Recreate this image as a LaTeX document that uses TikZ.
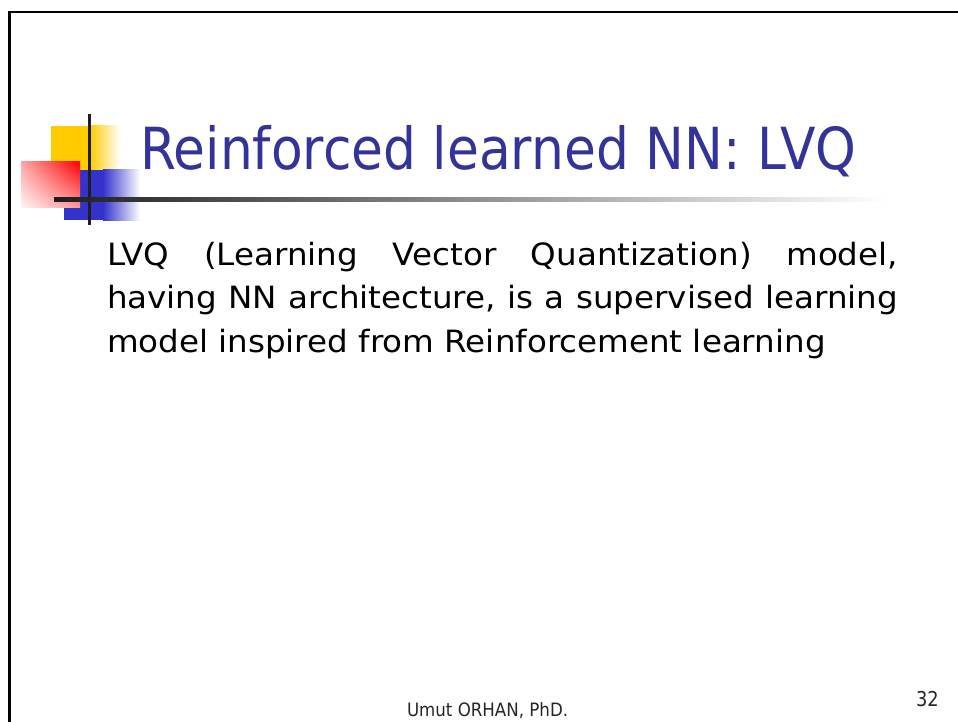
\documentclass[tikz,border=0pt]{standalone}
\usepackage{fontspec}
\usetikzlibrary{shadings}
\setmainfont{DejaVu Sans}[FakeStretch=0.87]
\newfontfamily\titlefont{DejaVu Sans}[FakeStretch=0.894]
\newfontfamily\bodyfont{DejaVu Sans}[FakeStretch=1.06]
\newfontfamily\footfont{DejaVu Sans}[FakeStretch=0.905]
\definecolor{titleblue}{HTML}{333399}
\definecolor{logoyellow}{HTML}{FFCC00}
\definecolor{logoblue}{HTML}{3333CC}
\definecolor{rulegray}{HTML}{1E1E1E}
\tikzset{
  plaintext/.style={anchor=base west, inner sep=0pt, outer sep=0pt},
  titletext/.style={plaintext, text=titleblue, font=\titlefont\fontsize{58}{60}\selectfont},
  bodytext/.style={plaintext, text=black, font=\bodyfont\fontsize{30.7}{36}\selectfont},
  foottext/.style={plaintext, text=black!85, font=\footfont\fontsize{18.4}{20}\selectfont},
}
\begin{document}
\begin{tikzpicture}[x=1pt,y=-1pt]
\useasboundingbox (0,0) rectangle (958,722);
\fill[white] (0,0) rectangle (958,722);

% slide frame (left and top edges)
\draw[line width=2.6pt, black] (9.2,724) -- (9.2,12) -- (960,12);

% corner logo: yellow, blue and red squares
\fill[logoyellow] (51,126) rectangle (90.5,170);
\shade[left color=logoyellow, right color=white] (90,126) rectangle (120,170);
\fill[logoblue] (64,170) rectangle (103.5,220);
\shade[left color=logoblue, right color=white] (103,170) rectangle (140,220);
\shade[upper right=red, upper left=red!35, lower left=red!4, lower right=red!40]
  (21,162) rectangle (80,208);

% logo cross: vertical bar and fading title rule
\fill[rulegray] (87.6,114) rectangle (90.6,225);
\shade[left color=rulegray, middle color=black!30, right color=white]
  (54,197.8) rectangle (887,201.8);

% title
\node[titletext] (title) at (140,170) {Reinforced learned NN: LVQ};

% body paragraph, justified line by line
\node[bodytext] (line1) at (107,265)
  {\makebox[791pt][s]{LVQ (Learning Vector Quantization) model,}};
\node[bodytext] (line2) at (107,308.5)
  {\makebox[791pt][s]{having NN architecture, is a supervised learning}};
\node[bodytext] (line3) at (107,352)
  {model inspired from Reinforcement learning};

% footer
\node[foottext] (author) at (407,716.7) {Umut ORHAN, PhD.};
\node[foottext, font=\fontsize{20.5}{22}\selectfont] (pagenum) at (916,706.7) {32};
\end{tikzpicture}
\end{document}
